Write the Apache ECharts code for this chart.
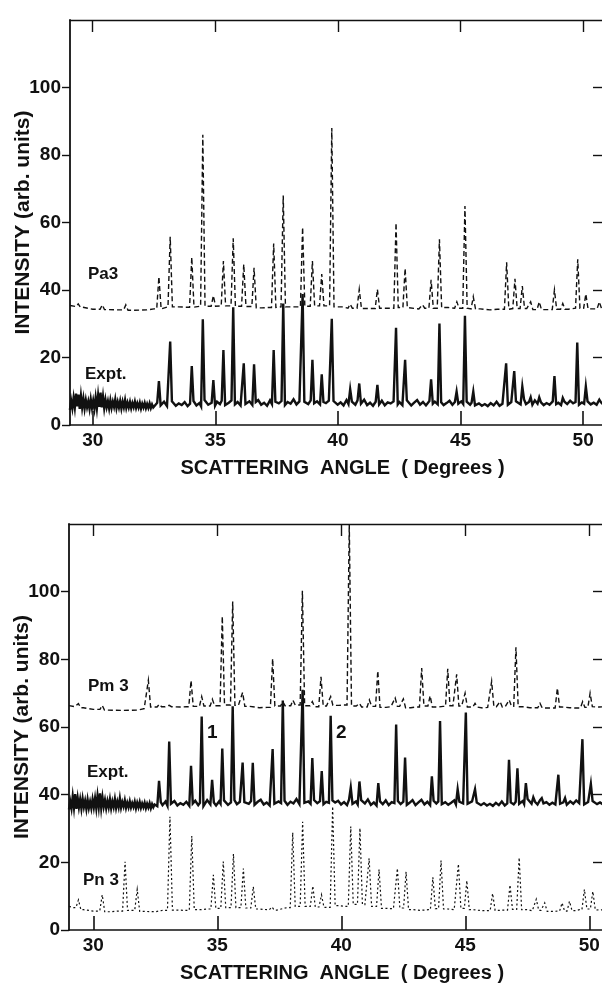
<!DOCTYPE html>
<html>
<head>
<meta charset="utf-8">
<script src="https://cdn.jsdelivr.net/npm/echarts@6/dist/echarts.min.js"></script>
<style>
html,body{margin:0;padding:0;background:#fff;}
#chart{width:602px;height:984px;}
</style>
</head>
<body>
<div id="chart"></div>
<script>
// ---------- tick labels ----------
const xTickValues = [30, 35, 40, 45, 50];
const yLabelValues = [0, 20, 40, 60, 80, 100];
const yRightTicks = [20, 40, 60, 80, 100];

// ---------- TOP PANEL ----------
// Pa3 calculated pattern: background points [deg, intensity] and peaks [deg, intensity]
const pa3Background = [[29.08,35.4],[29.3,35.1],[29.6,34.9],[30.0,34.3],[30.6,34.2],[31.0,34.1],[31.7,34.0],[32.2,34.1],[32.5,34.4],[33.5,35.0],[33.8,34.9],[34.7,35.2],[35.5,35.3],[35.9,35.2],[36.35,35.1],[36.9,34.7],[37.1,34.8],[38.2,35.0],[38.75,35.2],[39.15,35.3],[40.2,35.0],[40.5,34.6],[41.2,34.5],[42.0,34.6],[42.9,34.8],[43.3,34.4],[43.6,34.6],[44.5,34.8],[44.9,34.6],[45.8,34.4],[46.2,34.1],[46.5,34.3],[47.7,34.5],[48.0,34.2],[48.5,34.2],[49.0,34.3],[49.4,34.3],[49.95,34.6],[50.4,34.4],[50.8,34.5]];
const pa3Peaks = [[29.41,35.9],[30.39,35.6],[31.35,35.6],[32.70,43.9],[33.16,55.8],[34.04,49.7],[34.49,86.0],[34.92,38.3],[35.33,48.6],[35.73,55.3],[36.16,47.6],[36.58,46.6],[37.38,53.8],[37.77,68.0],[38.56,58.6],[38.96,48.6],[39.34,44.7],[39.75,88.0],[40.50,35.8],[40.87,40.2],[41.61,40.2],[42.37,59.9],[42.74,46.4],[43.45,35.6],[43.80,43.0],[44.14,55.0],[44.85,36.5],[45.18,64.9],[45.52,38.0],[46.88,48.2],[47.22,43.3],[47.52,41.2],[47.86,36.5],[48.21,36.5],[48.83,40.0],[49.17,36.0],[49.78,49.1],[50.11,38.8],[50.66,36.5]];

// Experimental pattern (top): noisy low-angle region sampled every 0.05 deg from 29.07
const exptTopNoiseStart = 29.07, exptTopNoiseStep = 0.05;
const exptTopNoise = [4.5,7.2,5.0,8.0,5.2,9.3,5.5,9.0,4.8,8.6,5.2,7.8,4.9,7.4,5.3,7.0,4.8,7.6,5.1,7.2,4.9,8.1,5.0,8.8,5.4,9.6,5.2,8.4,5.0,7.5,5.3,7.0,4.9,7.3,5.1,6.9,5.4,7.6,5.0,6.8,5.2,7.1,4.9,6.9,5.3,7.4,5.1,6.6,5.2,6.8,5.0,6.5,5.3,6.9,5.1,6.4,5.2,6.6,4.9,6.3,5.2,6.5,5.0,6.2,5.1,6.4,5.0,6.1,5.2];
// rest of the background sampled every 0.12 deg from 32.55
const exptTopBgStart = 32.55, exptTopBgStep = 0.12;
const exptTopBg = [5.4,6.6,5.8,6.9,5.6,6.2,7.0,5.7,6.4,5.9, 6.8,5.6,6.3,7.1,5.8,6.5,5.5,7.4,6.0,6.6, 5.7,6.9,6.2,7.2,5.9,6.6,7.3,6.1,6.8,5.8, 6.7,6.2,7.0,5.9,6.8,7.4,6.0,6.6,5.7,7.3, 6.2,6.9,6.4,7.1,5.9,6.8,6.3,7.6,6.1,7.0, 6.5,6.9,6.2,7.3,6.4,7.0,6.1,6.8,6.5,7.2, 6.6,7.1,6.0,6.7,5.8,7.4,6.2,6.9,6.0,7.3, 6.3,7.5,5.9,6.6,5.7,6.9,6.1,7.2,5.8,6.7, 6.4,7.0,6.1,6.8,5.9,6.5,7.3,5.8,6.6,7.4, 6.0,6.8,5.8,7.1,6.3,6.9,6.1,6.7,5.9,6.5, 7.2,6.0,6.8,6.3,7.0,6.2,6.9,6.0,6.6,5.8, 6.4,5.7,6.2,5.6,6.5,5.8,6.9,5.7,6.3,6.6, 6.0,6.8,6.2,7.0,6.1,7.6,6.2,6.8,6.0,7.3, 6.3,6.7,5.9,6.5,6.0,7.0,6.2,6.6,5.9,6.9, 6.2,7.2,6.4,6.8,6.0,6.7,6.3,7.0,6.1,6.6, 6.0,6.7,6.2];
const exptTopPeaks = [[32.70,13.0],[33.16,24.7],[34.04,17.5],[34.49,31.3],[34.92,13.3],[35.33,22.2],[35.73,34.9],[36.16,18.3],[36.58,18.0],[37.38,22.2],[37.77,36.0],[38.56,38.8],[38.96,19.3],[39.34,15.0],[39.75,31.5],[40.50,10.6],[40.87,12.3],[41.61,11.9],[42.37,28.8],[42.74,19.3],[43.80,13.5],[44.14,30.1],[44.84,9.9],[45.18,32.4],[45.52,9.9],[46.86,18.3],[47.19,16.0],[47.52,11.4],[47.86,8.2],[48.21,8.2],[48.83,14.5],[49.17,8.0],[49.76,24.4],[50.11,11.4],[50.66,7.5]];

// ---------- BOTTOM PANEL ----------
const pm3Background = [[29.02,66.3],[29.25,66.0],[29.6,65.7],[30.0,65.2],[30.6,65.0],[31.2,64.9],[31.8,65.0],[32.05,65.4],[32.45,65.9],[32.9,66.0],[33.5,65.9],[33.75,66.0],[34.15,66.1],[34.6,66.2],[35.0,66.3],[35.42,66.5],[35.85,66.4],[36.3,66.1],[36.7,65.7],[37.0,65.8],[37.45,66.2],[37.85,66.3],[38.2,66.5],[38.65,66.3],[38.95,66.0],[39.4,66.2],[39.9,66.4],[40.1,66.5],[40.6,66.2],[40.9,65.9],[41.3,66.1],[41.8,65.8],[42.0,66.0],[42.35,66.1],[42.8,65.7],[43.0,65.9],[43.4,66.2],[43.9,65.9],[44.1,66.1],[44.5,66.3],[44.85,66.2],[45.3,65.9],[45.7,65.6],[45.9,65.8],[46.25,66.0],[46.6,65.9],[46.9,66.1],[47.3,66.0],[47.6,65.7],[48.3,65.6],[48.5,65.6],[48.9,65.9],[49.2,65.7],[49.5,65.6],[49.85,65.8],[50.2,66.0],[50.4,65.9],[50.6,66.0]];
const pm3Peaks = [[29.40,66.9],[30.36,66.4],[32.22,73.8],[32.66,66.7],[33.06,66.4],[33.94,73.7],[34.37,69.0],[34.80,68.2],[35.20,92.7],[35.62,97.1],[36.02,70.2],[37.23,80.2],[37.64,67.5],[38.05,67.9],[38.43,100.3],[38.83,67.5],[39.18,74.8],[39.57,69.0],[40.32,120.0],[40.73,67.0],[41.13,68.0],[41.47,76.6],[42.17,68.6],[42.50,68.3],[43.24,77.4],[43.58,69.2],[44.29,77.2],[44.65,75.6],[44.99,70.0],[45.39,67.0],[46.06,73.5],[46.40,67.5],[46.77,68.0],[47.04,83.6],[48.01,67.0],[48.71,71.5],[49.73,67.5],[50.03,70.0]];

const exptBotNoiseStart = 29.02, exptBotNoiseStep = 0.05;
const exptBotNoise = [35.6,38.0,36.0,39.5,36.2,40.2,35.8,39.0,36.3,38.6,35.9,38.8,36.4,38.2,35.8,38.5,36.1,37.9,36.0,38.6,36.3,38.9,36.0,39.6,36.4,40.4,36.1,39.2,36.5,38.4,36.0,38.1,36.3,38.6,36.0,38.0,36.4,38.7,36.1,37.9,36.3,38.9,36.2,37.8,36.5,38.3,36.1,37.6,36.3,38.0,36.2,37.5,36.4,37.9,36.0,37.6,36.3,37.8,36.1,37.4,36.3,37.6,36.0,37.3,36.2,37.5,36.0,37.2,36.3,37.1];
const exptBotBgStart = 32.55, exptBotBgStep = 0.12;
const exptBotBg = [36.6,37.8,36.9,38.0,36.7,37.3,38.1,36.8,37.5,37.0, 37.9,36.7,37.4,38.2,36.9,37.6,36.6,38.4,37.1,37.7, 36.8,38.0,37.3,38.3,37.0,37.7,38.4,37.2,37.9,36.9, 37.8,37.3,38.1,37.0,37.9,38.5,37.1,37.7,36.8,38.4, 37.3,38.0,37.5,38.2,37.0,37.9,37.4,38.7,37.2,38.1, 37.6,38.0,37.3,38.4,37.5,38.1,37.2,37.9,37.6,38.3, 37.7,38.2,37.1,37.8,36.9,38.5,37.3,38.0,37.1,38.4, 37.4,38.6,37.0,37.7,36.8,38.0,37.2,38.3,36.9,37.8, 37.5,38.1,37.2,37.9,37.0,37.6,38.4,36.9,37.7,38.5, 37.1,37.9,36.9,38.2,37.4,38.0,37.2,37.8,37.0,37.6, 38.3,37.1,37.9,37.4,38.1,37.3,38.0,37.1,37.7,36.9, 37.5,36.8,37.3,36.7,37.6,36.9,38.0,36.8,37.4,37.7, 37.1,37.9,37.3,38.1,37.2,38.7,37.3,37.9,37.1,38.4, 37.4,37.8,37.0,37.6,37.1,38.1,37.3,37.7,37.0,38.0, 37.3,38.3,37.5,37.9,37.1,37.8,37.4,38.1,37.2,37.7, 37.1];
const exptBotPeaks = [[32.65,44.1],[33.06,55.7],[33.94,48.5],[34.37,63.1],[34.79,44.4],[35.20,53.6],[35.62,66.1],[36.02,49.5],[36.43,49.4],[37.23,53.5],[37.64,67.8],[38.44,71.0],[38.83,50.8],[39.21,47.0],[39.57,63.3],[40.38,42.1],[40.73,43.9],[41.49,43.4],[42.21,60.7],[42.57,51.0],[43.65,45.4],[43.98,61.8],[44.69,41.6],[45.02,64.3],[45.39,41.6],[46.76,50.3],[47.10,47.8],[47.44,43.4],[47.74,39.2],[48.08,39.0],[48.75,45.9],[49.02,39.0],[49.72,56.4],[50.06,43.2]];

const pn3Background = [[29.02,7.0],[29.2,6.6],[29.6,6.0],[30.0,5.6],[30.7,5.4],[31.0,5.6],[31.55,5.8],[32.0,5.5],[32.5,5.4],[32.8,5.8],[33.4,5.9],[33.7,5.8],[34.3,6.0],[34.6,6.2],[35.0,6.4],[35.45,6.6],[35.85,6.6],[36.25,6.5],[36.7,6.2],[37.0,6.0],[37.4,5.9],[37.8,6.6],[38.25,7.0],[38.65,7.0],[39.0,6.8],[39.4,6.7],[39.9,7.2],[40.15,7.0],[40.55,7.6],[40.95,7.5],[41.3,7.0],[41.8,6.4],[42.1,6.3],[42.4,6.5],[42.9,6.0],[43.2,5.8],[43.5,6.0],[43.85,6.3],[44.3,6.2],[44.55,6.0],[44.9,6.4],[45.3,6.0],[45.7,5.7],[46.35,5.8],[46.6,5.9],[46.95,6.1],[47.5,6.0],[47.7,5.7],[48.05,5.8],[48.5,5.5],[49.0,5.6],[49.45,5.7],[49.6,6.0],[49.95,6.2],[50.3,5.9],[50.6,6.0]];
const pn3Peaks = [[29.40,8.9],[30.36,10.4],[31.28,20.2],[31.77,12.0],[33.09,33.5],[33.97,27.8],[34.84,16.3],[35.24,20.2],[35.65,22.5],[36.05,18.2],[36.45,12.8],[37.20,6.8],[38.04,28.8],[38.44,32.0],[38.85,13.0],[39.20,10.4],[39.65,36.5],[40.38,30.6],[40.75,30.1],[41.12,21.2],[41.52,17.9],[42.26,18.2],[42.61,17.2],[43.69,15.6],[44.02,20.5],[44.72,19.5],[45.06,14.6],[46.10,10.8],[46.80,13.3],[47.17,21.4],[47.86,9.1],[48.20,8.0],[48.90,8.0],[49.20,8.5],[49.80,12.0],[50.14,11.4]];

// ---------- helpers ----------
function sampled(start, step, values) {
  return values.map((v, i) => [start + i * step, v]);
}
// Combine background points with peaks; each peak gets two feet at the nearest background level.
function profile(background, peaks, hw) {
  const bg = background.slice().sort((a, b) => a[0] - b[0]);
  function nearestY(x) {
    let best = bg[0];
    for (const p of bg) if (Math.abs(p[0] - x) < Math.abs(best[0] - x)) best = p;
    return best[1];
  }
  const pts = bg.filter(p => !peaks.some(k => Math.abs(k[0] - p[0]) < hw * 1.3));
  peaks.forEach(k => {
    pts.push([k[0] - hw, nearestY(k[0] - hw)], [k[0], k[1]], [k[0] + hw, nearestY(k[0] + hw)]);
  });
  pts.sort((a, b) => a[0] - b[0]);
  return pts;
}

const FONT = '"Liberation Sans", Arial, Helvetica, sans-serif';
const INK = '#111';

function xAxisBottom(gi, min, max) {
  return {
    type: 'value', gridIndex: gi, min: min, max: max, position: 'bottom',
    axisLine: {show: true, onZero: false, lineStyle: {color: INK, width: 1.6}},
    axisTick: {show: true, inside: true, length: 14, customValues: xTickValues, lineStyle: {color: INK, width: 1.6}},
    axisLabel: {show: true, customValues: xTickValues, margin: 6, color: INK, fontSize: 19, fontWeight: 'bold', fontFamily: FONT},
    splitLine: {show: false},
    name: 'SCATTERING  ANGLE  ( Degrees )', nameLocation: 'middle', nameGap: 33, nameMoveOverlap: false,
    nameTextStyle: {color: INK, fontSize: 20, fontWeight: 'bold', fontFamily: FONT, padding: [0, 0, 0, 12]}
  };
}
function xAxisTop(gi, min, max) {
  return {
    type: 'value', gridIndex: gi, min: min, max: max, position: 'top',
    axisLine: {show: true, onZero: false, lineStyle: {color: INK, width: 1.4}},
    axisTick: {show: true, inside: true, length: 12, customValues: xTickValues, lineStyle: {color: INK, width: 1.4}},
    axisLabel: {show: false}, splitLine: {show: false}
  };
}
function yAxisLeft(gi) {
  return {
    type: 'value', gridIndex: gi, min: 0, max: 120, interval: 20, position: 'left',
    axisLine: {show: true, onZero: false, lineStyle: {color: INK, width: 1.8}},
    axisTick: {show: true, inside: false, length: 8, customValues: yLabelValues, lineStyle: {color: INK, width: 1.4}},
    axisLabel: {show: true, customValues: yLabelValues, margin: 9, color: INK, fontSize: 19, fontWeight: 'bold', fontFamily: FONT},
    splitLine: {show: false},
    name: 'INTENSITY (arb. units)', nameLocation: 'middle', nameRotate: 90, nameGap: 36, nameMoveOverlap: false,
    nameTextStyle: {color: INK, fontSize: 21, fontWeight: 'bold', fontFamily: FONT}
  };
}
function yAxisRight(gi) {
  return {
    type: 'value', gridIndex: gi, min: 0, max: 120, interval: 20, position: 'right',
    axisLine: {show: true, onZero: false, lineStyle: {color: INK, width: 1.4}},
    axisTick: {show: true, inside: true, length: 10, customValues: yRightTicks, lineStyle: {color: INK, width: 1.4}},
    axisLabel: {show: false}, splitLine: {show: false}
  };
}
function lineSeries(name, xi, yi, data, width, dash) {
  return {
    name: name, type: 'line', xAxisIndex: xi, yAxisIndex: yi, data: data,
    showSymbol: false, symbol: 'none', smooth: false, silent: true,
    lineStyle: {color: INK, width: width, type: dash || 'solid', cap: 'butt', join: 'miter'},
    z: 3
  };
}

const topXMin = 29.074, topXMax = 50.81;
const botXMin = 29.02, botXMax = 50.55;

const option = {
  animation: false,
  backgroundColor: '#fff',
  grid: [
    {left: 70, top: 20, width: 533, height: 405, containLabel: false, outerBoundsMode: 'none'},
    {left: 69, top: 524, width: 534, height: 406, containLabel: false, outerBoundsMode: 'none'}
  ],
  xAxis: [xAxisBottom(0, topXMin, topXMax), xAxisTop(0, topXMin, topXMax), xAxisBottom(1, botXMin, botXMax), xAxisTop(1, botXMin, botXMax)],
  yAxis: [yAxisLeft(0), yAxisRight(0), yAxisLeft(1), yAxisRight(1)],
  series: [
    lineSeries('Pa3', 0, 0, profile(pa3Background, pa3Peaks, 0.09), 1.4, [5, 3]),
    lineSeries('Expt. (top)', 0, 0, profile(sampled(exptTopNoiseStart, exptTopNoiseStep, exptTopNoise).concat(sampled(exptTopBgStart, exptTopBgStep, exptTopBg)), exptTopPeaks, 0.07), 2.4),
    lineSeries('Pm 3', 2, 2, profile(pm3Background, pm3Peaks, 0.09), 1.4, [5, 3]),
    lineSeries('Expt. (bottom)', 2, 2, profile(sampled(exptBotNoiseStart, exptBotNoiseStep, exptBotNoise).concat(sampled(exptBotBgStart, exptBotBgStep, exptBotBg)), exptBotPeaks, 0.07), 2.4),
    lineSeries('Pn 3', 2, 2, profile(pn3Background, pn3Peaks, 0.1), 1.2, [2, 2.5])
  ],
  graphic: [
    {type: 'text', left: 88, top: 266, style: {text: 'Pa3', fontSize: 17, fontWeight: 'bold', fontFamily: FONT, fill: INK}},
    {type: 'text', left: 85, top: 366, style: {text: 'Expt.', fontSize: 17, fontWeight: 'bold', fontFamily: FONT, fill: INK}},
    {type: 'text', left: 88, top: 678, style: {text: 'Pm 3', fontSize: 17, fontWeight: 'bold', fontFamily: FONT, fill: INK}},
    {type: 'text', left: 87, top: 764, style: {text: 'Expt.', fontSize: 17, fontWeight: 'bold', fontFamily: FONT, fill: INK}},
    {type: 'text', left: 83, top: 872, style: {text: 'Pn 3', fontSize: 17, fontWeight: 'bold', fontFamily: FONT, fill: INK}},
    {type: 'text', left: 207, top: 723, style: {text: '1', fontSize: 19, fontWeight: 'bold', fontFamily: FONT, fill: INK}},
    {type: 'text', left: 336, top: 723, style: {text: '2', fontSize: 19, fontWeight: 'bold', fontFamily: FONT, fill: INK}}
  ]
};

const chart = echarts.init(document.getElementById('chart'), null, {renderer: 'canvas'});
chart.setOption(option);
</script>
</body>
</html>
